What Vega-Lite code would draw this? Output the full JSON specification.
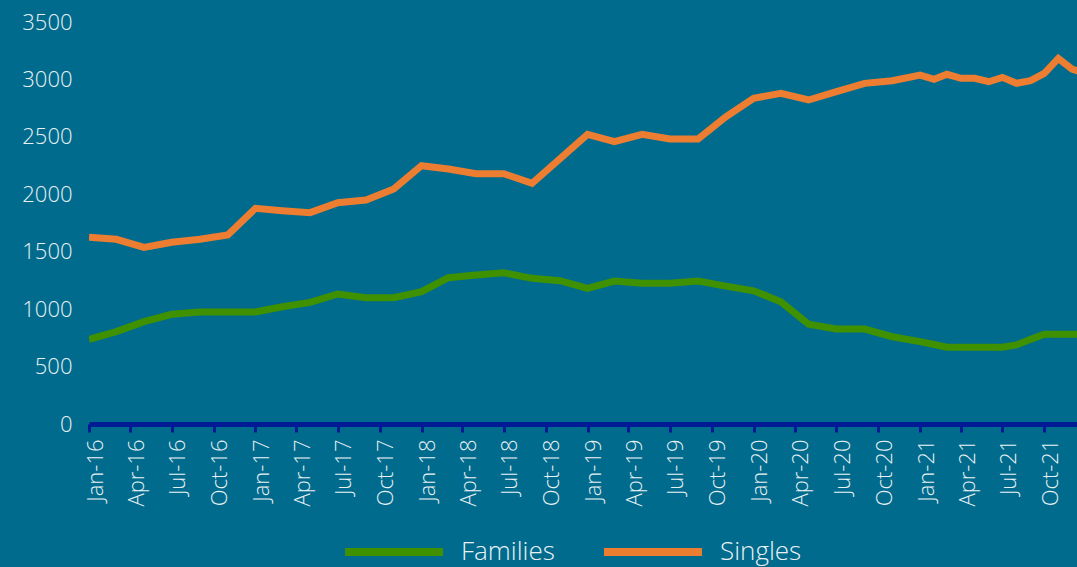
{
  "$schema": "https://vega.github.io/schema/vega-lite/v6.json",
  "width": 988,
  "height": 402,
  "autosize": {"type": "none"},
  "padding": {"left": 89, "top": 22, "right": 0, "bottom": 143},
  "background": "#006B8C",
  "config": {
    "view": {"stroke": null},
    "font": "Open Sans",
    "axis": {"labelColor": "#E9F1F5", "labelFont": "Open Sans", "labelFontWeight": 300, "grid": false, "title": null},
    "legend": {"labelFontWeight": 300}
  },
  "data": {
    "values": [
      {"date": "2016-01-01", "Families": 737, "Singles": 1625},
      {"date": "2016-03-01", "Families": 804, "Singles": 1608},
      {"date": "2016-05-01", "Families": 891, "Singles": 1538},
      {"date": "2016-07-01", "Families": 955, "Singles": 1582},
      {"date": "2016-09-01", "Families": 975, "Singles": 1608},
      {"date": "2016-11-01", "Families": 975, "Singles": 1645},
      {"date": "2017-01-01", "Families": 975, "Singles": 1878},
      {"date": "2017-03-01", "Families": 1021, "Singles": 1857},
      {"date": "2017-05-01", "Families": 1059, "Singles": 1840},
      {"date": "2017-07-01", "Families": 1132, "Singles": 1927},
      {"date": "2017-09-01", "Families": 1100, "Singles": 1950},
      {"date": "2017-11-01", "Families": 1100, "Singles": 2046},
      {"date": "2018-01-01", "Families": 1152, "Singles": 2249},
      {"date": "2018-03-01", "Families": 1274, "Singles": 2220},
      {"date": "2018-05-01", "Families": 1297, "Singles": 2179},
      {"date": "2018-07-01", "Families": 1317, "Singles": 2179},
      {"date": "2018-09-01", "Families": 1268, "Singles": 2095},
      {"date": "2018-11-01", "Families": 1248, "Singles": 2308},
      {"date": "2019-01-01", "Families": 1181, "Singles": 2522},
      {"date": "2019-03-01", "Families": 1245, "Singles": 2458},
      {"date": "2019-05-01", "Families": 1225, "Singles": 2522},
      {"date": "2019-07-01", "Families": 1225, "Singles": 2481},
      {"date": "2019-09-01", "Families": 1245, "Singles": 2481},
      {"date": "2019-11-01", "Families": 1200, "Singles": 2675},
      {"date": "2020-01-01", "Families": 1160, "Singles": 2836},
      {"date": "2020-03-01", "Families": 1065, "Singles": 2879},
      {"date": "2020-05-01", "Families": 868, "Singles": 2821},
      {"date": "2020-07-01", "Families": 827, "Singles": 2893},
      {"date": "2020-09-01", "Families": 827, "Singles": 2966},
      {"date": "2020-11-01", "Families": 760, "Singles": 2989},
      {"date": "2021-01-01", "Families": 717, "Singles": 3038},
      {"date": "2021-02-01", "Families": 692, "Singles": 3001},
      {"date": "2021-03-01", "Families": 668, "Singles": 3045},
      {"date": "2021-04-01", "Families": 668, "Singles": 3010},
      {"date": "2021-05-01", "Families": 668, "Singles": 3010},
      {"date": "2021-06-01", "Families": 668, "Singles": 2980},
      {"date": "2021-07-01", "Families": 668, "Singles": 3018},
      {"date": "2021-08-01", "Families": 688, "Singles": 2966},
      {"date": "2021-09-01", "Families": 737, "Singles": 2989},
      {"date": "2021-10-01", "Families": 781, "Singles": 3053},
      {"date": "2021-11-01", "Families": 781, "Singles": 3183},
      {"date": "2021-12-01", "Families": 781, "Singles": 3090},
      {"date": "2022-01-01", "Families": 781, "Singles": 3050}
    ]
  },
  "transform": [{"fold": ["Families", "Singles"], "as": ["series", "value"]}],
  "mark": {"type": "line", "strokeWidth": 7, "clip": true},
  "encoding": {
    "x": {
      "field": "date",
      "type": "temporal",
      "scale": {"domain": ["2016-01-01", "2021-12-12"]},
      "axis": {
        "values": ["2016-01-01","2016-04-01","2016-07-01","2016-10-01","2017-01-01","2017-04-01","2017-07-01","2017-10-01","2018-01-01","2018-04-01","2018-07-01","2018-10-01","2019-01-01","2019-04-01","2019-07-01","2019-10-01","2020-01-01","2020-04-01","2020-07-01","2020-10-01","2021-01-01","2021-04-01","2021-07-01","2021-10-01"],
        "format": "%b-%y",
        "labelAngle": -90,
        "labelFontSize": 22,
        "labelOffset": 6,
        "labelPadding": 7,
        "domainColor": "#001B94",
        "domainWidth": 5,
        "tickColor": "#001B94",
        "tickWidth": 3,
        "tickSize": 8,
        "labelOverlap": false
      }
    },
    "y": {
      "field": "value",
      "type": "quantitative",
      "scale": {"domain": [0, 3500]},
      "axis": {
        "values": [0, 500, 1000, 1500, 2000, 2500, 3000, 3500],
        "format": "d",
        "domain": false,
        "ticks": false,
        "labelFontSize": 22,
        "labelPadding": 17
      }
    },
    "color": {
      "field": "series",
      "type": "nominal",
      "scale": {"domain": ["Families", "Singles"], "range": ["#409100", "#ED7D31"]},
      "legend": {
        "title": null,
        "orient": "none",
        "direction": "horizontal",
        "legendX": 252,
        "legendY": 477,
        "symbolType": "stroke",
        "symbolSize": 9604,
        "symbolStrokeWidth": 8,
        "labelFontSize": 26,
        "labelColor": "#E9F1F5",
        "labelOffset": 14,
        "columnPadding": 33,
        "padding": 0
      }
    }
  }
}
